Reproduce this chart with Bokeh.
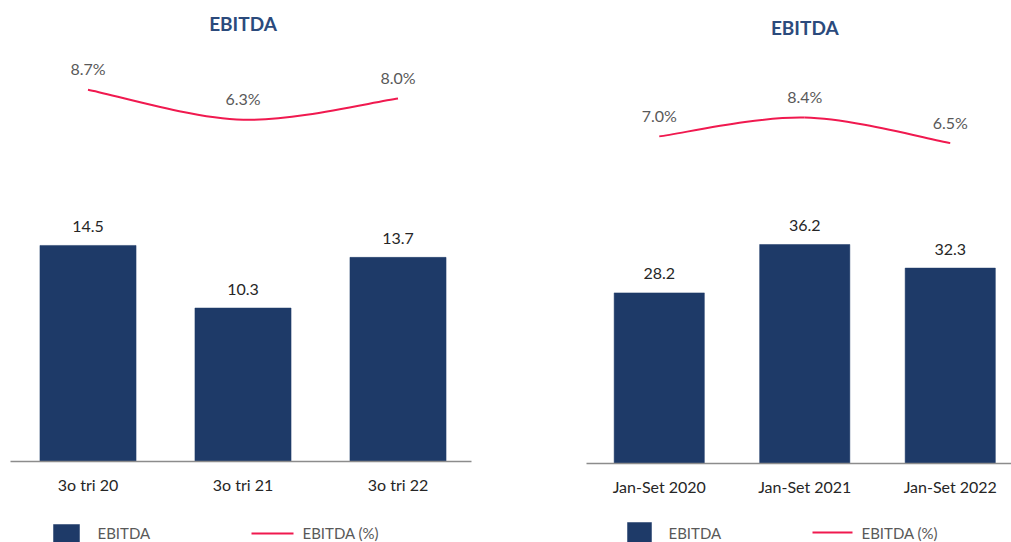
from bokeh.plotting import figure
from bokeh.layouts import row, column
from bokeh.models import Range1d, Label, ColumnDataSource, FixedTicker
from bokeh.core.properties import value
from bokeh.embed import file_html
from bokeh.resources import INLINE

# ---------------- data ----------------
left_categories = ["3o tri 20", "3o tri 21", "3o tri 22"]
left_ebitda = [14.5, 10.3, 13.7]
left_margin_pct = [8.7, 6.3, 8.0]

right_categories = ["Jan-Set 2020", "Jan-Set 2021", "Jan-Set 2022"]
right_ebitda = [28.2, 36.2, 32.3]
right_margin_pct = [7.0, 8.4, 6.5]

chart_title = "EBITDA"
legend_bar_label = "EBITDA"
legend_line_label = "EBITDA (%)"

# ---------------- style ----------------
NAVY = "#1E3A68"
RED = "#F0194F"
TITLE_COLOR = "#2B4A7C"
FONT = "Lato"
H = 542
MAIN_H = 510          # chart part; the rest holds the legend
LEG_H = H - MAIN_H


def smooth_segments(xs, ys):
    """Catmull-Rom style smoothing turned into cubic Bezier segments."""
    n = len(xs)
    pts = list(zip(xs, ys))
    seg = dict(x0=[], y0=[], x1=[], y1=[], cx0=[], cy0=[], cx1=[], cy1=[])
    for i in range(n - 1):
        p0 = pts[max(i - 1, 0)]
        p1 = pts[i]
        p2 = pts[i + 1]
        p3 = pts[min(i + 2, n - 1)]
        seg["x0"].append(p1[0]); seg["y0"].append(p1[1])
        seg["x1"].append(p2[0]); seg["y1"].append(p2[1])
        seg["cx0"].append(p1[0] + (p2[0] - p0[0]) / 6.0)
        seg["cy0"].append(p1[1] + (p2[1] - p0[1]) / 6.0)
        seg["cx1"].append(p2[0] - (p3[0] - p1[0]) / 6.0)
        seg["cy1"].append(p2[1] - (p3[1] - p1[1]) / 6.0)
    return seg


def panel(cats, bars, pct, x0, width, bl, br, base_px, px_unit, pct_zero_px, px_pct,
          spacing, title_px, leg):
    frame_w = width - bl - br
    x_end = -0.5 + frame_w / spacing
    p = figure(width=width, height=MAIN_H, output_backend="svg", toolbar_location=None,
               x_range=Range1d(-0.5, x_end),
               y_range=Range1d(0, base_px / px_unit),
               y_axis_location=None, min_border_left=bl, min_border_right=br,
               min_border_top=0, min_border_bottom=MAIN_H - base_px)
    p.extra_y_ranges = {"pct": Range1d((pct_zero_px - base_px) / px_pct, pct_zero_px / px_pct)}
    p.outline_line_color = None
    p.xgrid.visible = False
    p.ygrid.visible = False

    xs = list(range(len(cats)))
    src = ColumnDataSource(dict(x=xs, v=bars, lbl=[f"{b:.1f}" for b in bars],
                                pct=pct, plbl=[f"{q:.1f}%" for q in pct]))
    p.vbar(x="x", top="v", width=0.62, bottom=0, source=src,
           fill_color=NAVY, line_color=NAVY, line_width=0.5)
    p.text(x="x", y="v", text="lbl", source=src, text_align="center",
           text_baseline="middle", y_offset=-19, text_font=value(FONT),
           text_font_size="16px", text_color="#262626")

    seg = smooth_segments(xs, pct)
    p.bezier(x0="x0", y0="y0", x1="x1", y1="y1", cx0="cx0", cy0="cy0",
             cx1="cx1", cy1="cy1", source=ColumnDataSource(seg),
             y_range_name="pct", line_color=RED, line_width=2)
    p.text(x="x", y="pct", text="plbl", source=src, y_range_name="pct",
           text_align="center", text_baseline="middle", y_offset=-21,
           text_font=value(FONT), text_font_size="16px", text_color="#595959")

    p.add_layout(Label(x=(len(cats) - 1) / 2.0, y=(base_px - title_px) / px_unit,
                       text=chart_title, text_align="center", text_baseline="middle",
                       text_font=FONT, text_font_size="19px", text_font_style="bold",
                       text_color=TITLE_COLOR))

    ax = p.xaxis[0]
    ax.ticker = FixedTicker(ticks=xs)
    ax.major_label_overrides = {i: c for i, c in zip(xs, cats)}
    ax.axis_line_color = "#8C8C8C"
    ax.axis_line_width = 1.5
    ax.major_tick_line_color = None
    ax.minor_tick_line_color = None
    ax.major_label_standoff = 7
    ax.major_label_text_font = FONT
    ax.major_label_text_font_size = "16px"
    ax.major_label_text_color = "#262626"

    # legend strip under the chart; the column aligns its frame with the chart's frame,
    # so its x range is expressed in page pixels over that same frame span
    lf = figure(width=width, height=LEG_H, output_backend="svg", toolbar_location=None,
                x_range=Range1d(x0 + bl, x0 + width - br), y_range=Range1d(H, MAIN_H),
                x_axis_location=None, y_axis_location=None,
                min_border_left=bl, min_border_right=br, min_border_top=0, min_border_bottom=0)
    lf.outline_line_color = None
    lf.xgrid.visible = False
    lf.ygrid.visible = False
    sq_l, sq_r, sq_t, sq_txt, sq_ty, ln_l, ln_r, ln_y, ln_txt, ln_ty = leg
    lf.quad(left=[sq_l], right=[sq_r], top=[sq_t], bottom=[H + 6],
            fill_color=NAVY, line_color=NAVY, line_width=0.5)
    lf.segment(x0=[ln_l], x1=[ln_r], y0=[ln_y], y1=[ln_y], line_color=RED, line_width=2)
    lf.text(x=[sq_txt, ln_txt], y=[sq_ty, ln_ty], text=[legend_bar_label, legend_line_label],
            text_align="left", text_baseline="middle", text_font=value(FONT),
            text_font_size="15px", text_color="#595959")
    return column(p, lf, spacing=0)


left = panel(left_categories, left_ebitda, left_margin_pct, x0=0,
             width=530, bl=10, br=59, base_px=461, px_unit=14.9,
             pct_zero_px=198.0, px_pct=12.5, spacing=155.0, title_px=23,
             leg=(53, 79, 524, 97, 532, 251, 293, 533, 302, 532))
right = panel(right_categories, right_ebitda, right_margin_pct, x0=530,
              width=481, bl=56, br=0, base_px=463, px_unit=6.05,
              pct_zero_px=230.1, px_pct=13.46, spacing=145.5, title_px=27,
              leg=(627, 651, 522, 668, 532, 812, 852, 532, 861, 532))

layout = row(left, right, spacing=0)
open("out.html", "w").write(file_html(layout, INLINE))
